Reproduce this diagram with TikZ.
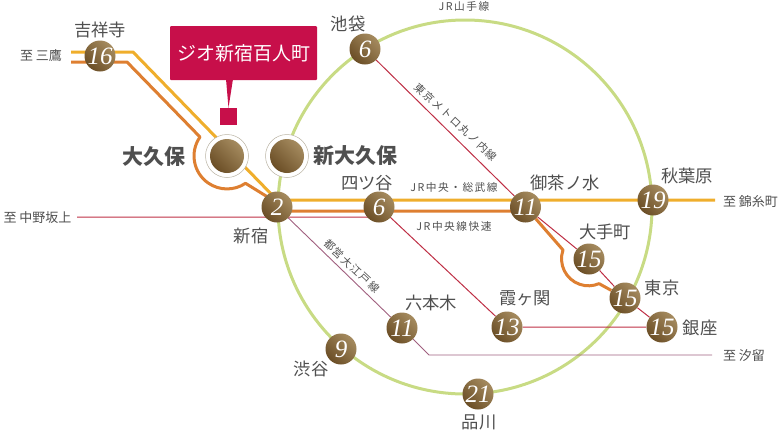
\documentclass[tikz,border=0pt]{standalone}
\usepackage{fontspec}
\usetikzlibrary{backgrounds}
\setmainfont{Liberation Serif}
\newfontfamily\jpfont{Noto Sans CJK JP}
\newfontfamily\jpwide[LetterSpace=14]{Noto Sans CJK JP}
\definecolor{brownA}{HTML}{A58B5F}
\definecolor{brownB}{HTML}{6B4E26}
\definecolor{ringgray}{HTML}{B9B2A2}
\definecolor{labelgray}{HTML}{4F4F4F}
\definecolor{lineyellow}{HTML}{EFAE2C}
\definecolor{lineorange}{HTML}{DE7F31}
\definecolor{linered}{HTML}{BE2F45}
\definecolor{linepurple}{HTML}{A0607F}
\definecolor{linegreen}{HTML}{C8DB84}
\definecolor{calloutred}{HTML}{C70F4A}
\begin{document}
\begin{tikzpicture}[x=1pt,y=-1pt,
    station/.style={circle,minimum size=31pt,inner sep=0pt,shading=axis,left color=brownA,right color=brownB,shading angle=-45,text=white,font=\fontsize{25}{25}\selectfont\itshape},
    bigstation/.style={circle,minimum size=34pt,inner sep=0pt,shading=axis,left color=brownA,right color=brownB,shading angle=-45},
    ringmark/.style={circle,draw=ringgray,line width=0.5pt,fill=white,minimum size=43pt,inner sep=0pt},
    stname/.style={font=\jpfont\fontsize{17.3}{18}\selectfont,text=labelgray,inner sep=0pt},
    bigname/.style={font=\jpfont\bfseries\fontsize{21}{21}\selectfont,text=labelgray,inner sep=0pt},
    toname/.style={font=\jpfont\fontsize{13}{14}\selectfont,text=labelgray,inner sep=0pt},
    lineinfo/.style={font=\jpwide\fontsize{10.7}{11}\selectfont,text=labelgray,inner sep=0pt},
    yellowline/.style={draw=lineyellow,line width=3pt,line join=round},
    orangeline/.style={draw=lineorange,line width=3pt,line join=round},
    redline/.style={draw=linered,line width=1pt},
    purpleline/.style={draw=linepurple,line width=0.9pt}]
  \useasboundingbox (0,0) rectangle (780,432);

  \coordinate (ringcenter) at (465,207);
  \coordinate (mitakaY) at (71,52);
  \coordinate (mitakaO) at (71,62);
  \coordinate (bendY) at (133,52);
  \coordinate (bendO) at (127,62);
  \coordinate (okuboin) at (200,137);
  \coordinate (otein) at (563,250);
  \coordinate (nakano) at (77,217);
  \coordinate (branch) at (390,217);
  \coordinate (shiodome) at (712,355);
  \coordinate (oedobend) at (429,355);
  \coordinate (kinshicho) at (715,200);
  \coordinate (shinjukuY) at (277,200);
  \coordinate (shinjukuO) at (277,211);
  \coordinate (ochaO) at (525,211);

  \node[station] (kichijoji) at (100,56) {16};
  \node[station] (ikebukuro) at (365,49) {6};
  \node[station] (shinjuku) at (277,207) {2};
  \node[station] (yotsuya) at (379,207) {6};
  \node[station] (ochanomizu) at (525.5,207) {11};
  \node[station] (akihabara) at (653,200) {19};
  \node[station] (otemachi) at (589,259) {15};
  \node[station] (tokyo) at (625,298) {15};
  \node[station] (ginza) at (662,327) {15};
  \node[station] (kasumigaseki) at (507,327) {13};
  \node[station] (roppongi) at (402,328) {11};
  \node[station] (shibuya) at (341,349) {9};
  \node[station] (shinagawa) at (478,394) {21};

  \begin{scope}[on background layer]
    \draw[draw=linegreen,line width=3pt] (ringcenter) circle (187);
    \draw[redline] (ikebukuro) -- (ochanomizu) -- (otemachi) -- (tokyo) -- (ginza);
    \draw[redline] (nakano) -- (branch) -- (kasumigaseki) -- (ginza);
    \draw[purpleline] (shinjuku) -- (roppongi) -- (oedobend) -- (shiodome);
    \draw[yellowline] (mitakaY) -- (bendY) -- (shinjukuY) -- (kinshicho);
    \draw[orangeline] (mitakaO) -- (bendO) -- (okuboin) arc[start angle=215,end angle=56,radius=33] -- (shinjuku.north west) -- (shinjukuO) -- (ochaO);
    \draw[orangeline] (ochanomizu) -- (otein) arc[start angle=199,end angle=67,radius=27] -- (tokyo);
  \end{scope}

  \node[ringmark] (okuboring) at (227,156) {};
  \node[bigstation] (okubo) at (227,156) {};
  \node[ringmark] (shinokuboring) at (287,156) {};
  \node[bigstation] (shinokubo) at (287,156) {};

  \node[stname] (kichijojilabel) at (100,30) {吉祥寺};
  \node[stname] (ikebukurolabel) at (348,24) {池袋};
  \node[stname] (yotsuyalabel) at (367,183) {四ツ谷};
  \node[stname] (shinjukulabel) at (251,236) {新宿};
  \node[stname] (ochanomizulabel) at (565,183) {御茶ノ水};
  \node[stname] (akihabaralabel) at (687,176) {秋葉原};
  \node[stname] (otemachilabel) at (605,232) {大手町};
  \node[stname] (tokyolabel) at (662,288) {東京};
  \node[stname] (ginzalabel) at (700,328) {銀座};
  \node[stname] (kasumigasekilabel) at (525,298) {霞ヶ関};
  \node[stname] (roppongilabel) at (431,303) {六本木};
  \node[stname] (shibuyalabel) at (311,369) {渋谷};
  \node[stname] (shinagawalabel) at (479,422) {品川};
  \node[bigname] (okubolabel) at (154,157) {大久保};
  \node[bigname] (shinokubolabel) at (355,156) {新大久保};

  \node[toname] (tomitaka) at (41,56) {至 三鷹};
  \node[toname] (tonakano) at (37.5,218) {至 中野坂上};
  \node[toname] (tokinshi) at (750.5,202) {至 錦糸町};
  \node[toname] (toshiodome) at (744,356) {至 汐留};

  \node[lineinfo] (yamanote) at (464,6) {JR山手線};
  \node[lineinfo] (sobu) at (454,187) {JR中央・総武線};
  \node[lineinfo] (rapid) at (454,226) {JR中央線快速};
  \node[lineinfo,rotate=-43] (marunouchi) at (456,122) {東京メトロ丸ノ内線};
  \node[lineinfo,rotate=-43] (oedo) at (352,266) {都営大江戸線};

  \node[fill=calloutred,rounded corners=1pt,minimum width=147pt,minimum height=54pt,inner sep=0pt,text=white,font=\jpfont\fontsize{19}{19}\selectfont] (callout) at (243.5,53) {ジオ新宿百人町};
  \node[fill=calloutred,minimum size=17pt,inner sep=0pt] (marker) at (228.5,116.5) {};
  \fill[calloutred] (226,79) -- (233,79) -- (marker.north) -- cycle;
\end{tikzpicture}
\end{document}
